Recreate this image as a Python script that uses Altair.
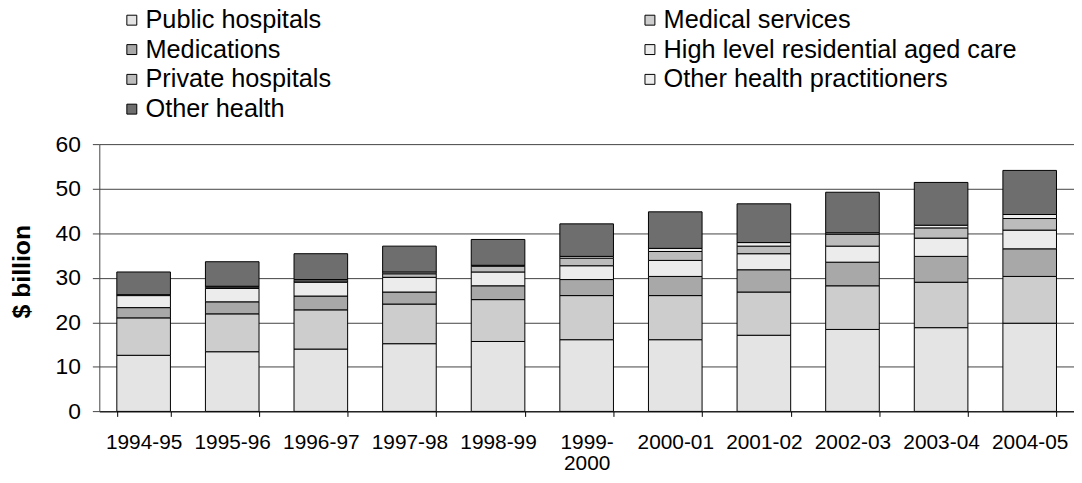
import altair as alt
import pandas as pd

years = ["1994-95", "1995-96", "1996-97", "1997-98", "1998-99", "1999-2000",
         "2000-01", "2001-02", "2002-03", "2003-04", "2004-05"]

series = ["Public hospitals", "Medical services", "Medications",
          "High level residential aged care", "Private hospitals",
          "Other health practitioners", "Other health"]

public_hospitals = [12.6, 13.4, 14.0, 15.2, 15.7, 16.1, 16.1, 17.1, 18.4, 18.8, 19.8]
medical_services = [8.4, 8.5, 8.8, 8.9, 9.4, 9.9, 9.9, 9.7, 9.8, 10.2, 10.5]
medications = [2.3, 2.7, 3.1, 2.7, 3.1, 3.6, 4.3, 5.0, 5.3, 5.8, 6.2]
residential_aged_care = [2.7, 3.0, 3.1, 3.3, 3.1, 3.1, 3.6, 3.6, 3.6, 4.1, 4.2]
private_hospitals = [0.1, 0.3, 0.3, 0.8, 1.3, 1.7, 2.0, 1.7, 2.7, 2.3, 2.6]
other_practitioners = [0.1, 0.2, 0.3, 0.4, 0.2, 0.4, 0.7, 0.8, 0.3, 0.6, 0.9]
other_health = [5.1, 5.5, 5.8, 5.8, 5.8, 7.3, 8.2, 8.7, 9.1, 9.6, 9.9]

greys = ["#e4e4e4", "#cdcdcd", "#a8a8a8", "#ececec", "#bcbcbc", "#eeeeee", "#6e6e6e"]

all_values = [public_hospitals, medical_services, medications, residential_aged_care,
              private_hospitals, other_practitioners, other_health]

rows = []
for si, (name, vals) in enumerate(zip(series, all_values)):
    for yr, v in zip(years, vals):
        rows.append({"year": yr, "series": name, "idx": si, "value": v})
df = pd.DataFrame(rows)

FONT = "Liberation Sans"

chart = alt.Chart(df).mark_bar(stroke="black", strokeWidth=1).encode(
    x=alt.X(
        "year:N", sort=years, title=None,
        scale=alt.Scale(paddingInner=0.395, paddingOuter=0.1975),
        axis=alt.Axis(
            tickBand="extent", labelAngle=0, labelFontSize=21, labelFont=FONT,
            labelColor="black", tickSize=5, tickColor="black", domainColor="black",
            labelPadding=15, grid=False, labelLineHeight=22,
            labelExpr="datum.value == '1999-2000' ? ['1999-', '2000'] : datum.value",
        ),
    ),
    y=alt.Y(
        "value:Q", stack="zero",
        scale=alt.Scale(domain=[0, 60], nice=False),
        axis=alt.Axis(
            values=[0, 10, 20, 30, 40, 50, 60], title="$ billion",
            titleFontSize=25, titleFont=FONT, titleFontWeight="bold", titleColor="black",
            titleX=-78, titleY=128, titleAngle=270, titleBaseline="middle", titleAlign="center",
            labelFontSize=23, labelFont=FONT, labelColor="black", labelPadding=12,
            tickSize=7, tickColor="#444444", domainColor="#444444",
            grid=True, gridColor="#444444", gridWidth=1,
        ),
    ),
    color=alt.Color(
        "series:N", title=None,
        scale=alt.Scale(domain=series, range=greys),
        legend=alt.Legend(
            orient="none", legendX=20, legendY=-138, columns=2, direction="horizontal",
            columnPadding=308, rowPadding=3, labelFontSize=25.5, labelFont=FONT,
            labelColor="black", symbolType="square", symbolSize=100,
            symbolStrokeColor="black", symbolStrokeWidth=1, labelOffset=1, padding=0,
            labelLimit=600,
        ),
    ),
    order=alt.Order("idx:Q", sort="ascending"),
).properties(
    width=982, height=269.3,
    autosize=alt.AutoSizeParams(type="none"),
    padding={"left": 92, "top": 135.4, "right": 0, "bottom": 62},
).configure_view(stroke=None)

chart.save("out.html", embed_options={"renderer": "svg", "actions": False})
